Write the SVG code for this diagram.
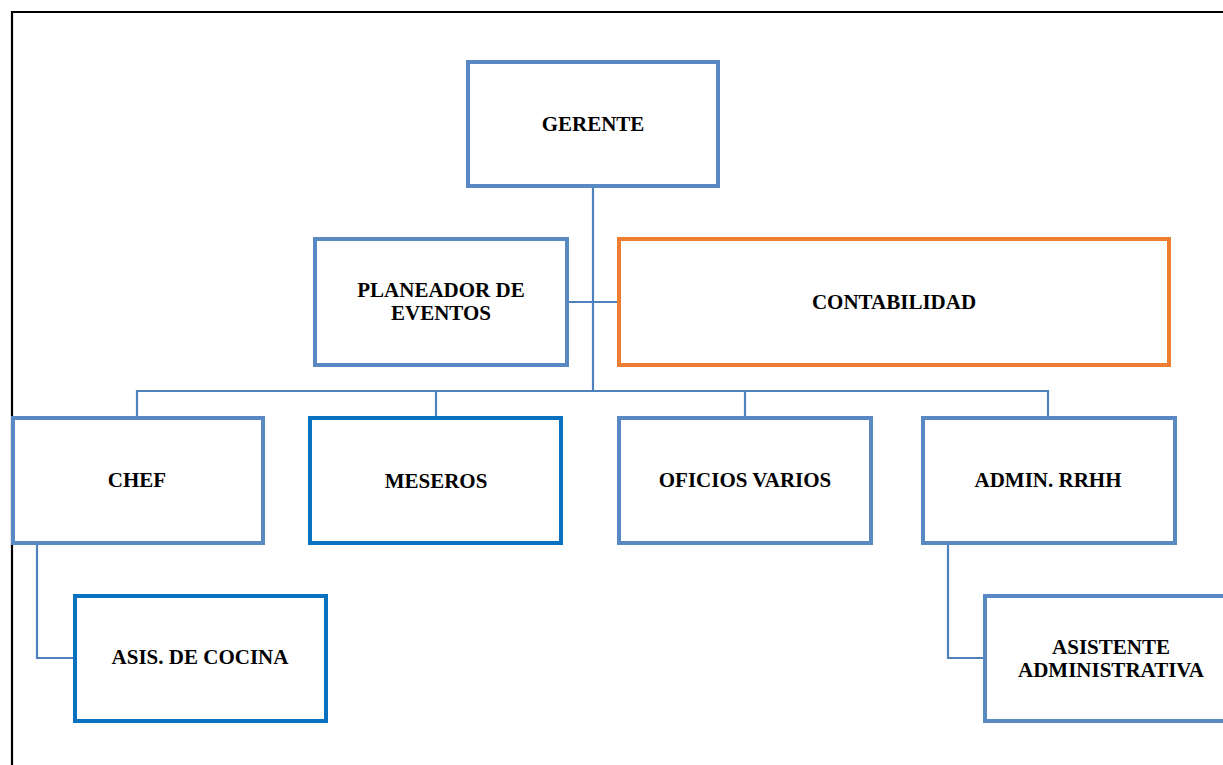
<svg xmlns="http://www.w3.org/2000/svg" width="1223" height="765" viewBox="0 0 1223 765">
<style>
.box{fill:#fff;stroke:#5889C2;stroke-width:4}
.dark{stroke:#0872C0}
.orange{stroke:#ED7D31}
.conn{fill:none;stroke:#4F81BD;stroke-width:2.2}
text{font-family:"Liberation Serif","Times New Roman",serif;font-weight:bold;font-size:21px;fill:#000;text-anchor:middle}
</style>
<rect width="1223" height="765" fill="#fff"/>
<path d="M12 765 V12 H1223" fill="none" stroke="#000" stroke-width="2.2"/>
<g id="connectors">
<path class="conn" d="M593 188 V391"/>
<path class="conn" d="M569 302 H619"/>
<path class="conn" d="M137 416 V391 H1048 V416"/>
<path class="conn" d="M436 391 V416"/>
<path class="conn" d="M745 391 V416"/>
<path class="conn" d="M37 545 V658 H73"/>
<path class="conn" d="M948 545 V658 H983"/>
</g>
<g id="gerente"><rect class="box" x="468" y="62" width="250" height="124"/><text x="593" y="131">GERENTE</text></g>
<g id="planeador"><rect class="box" x="315" y="239" width="252" height="126"/><text x="441" y="297">PLANEADOR DE</text><text x="441" y="320">EVENTOS</text></g>
<g id="contabilidad"><rect class="box orange" x="619" y="239" width="550" height="126"/><text x="894" y="309">CONTABILIDAD</text></g>
<g id="chef"><rect class="box" x="13" y="418" width="250" height="125"/><text x="137" y="487">CHEF</text></g>
<g id="meseros"><rect class="box dark" x="310" y="418" width="251" height="125"/><text x="436" y="488">MESEROS</text></g>
<g id="oficios"><rect class="box" x="619" y="418" width="252" height="125"/><text x="745" y="487">OFICIOS VARIOS</text></g>
<g id="admin"><rect class="box" x="923" y="418" width="252" height="125"/><text x="1048" y="487">ADMIN. RRHH</text></g>
<g id="asis-cocina"><rect class="box dark" x="75" y="596" width="251" height="125"/><text x="200" y="664">ASIS. DE COCINA</text></g>
<g id="asistente"><rect class="box" x="985" y="596" width="252" height="125"/><text x="1111" y="654">ASISTENTE</text><text x="1111" y="677">ADMINISTRATIVA</text></g>
</svg>
